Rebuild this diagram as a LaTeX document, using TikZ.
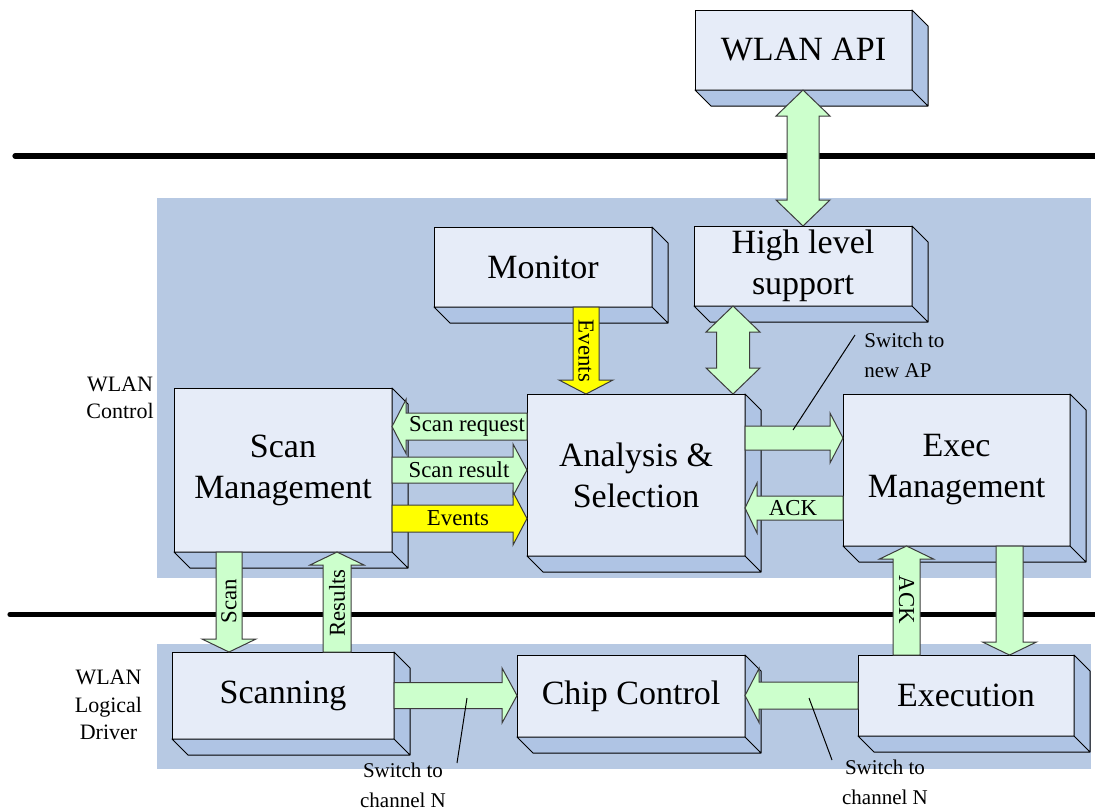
\documentclass[tikz,border=0pt]{standalone}
\usepackage{fontspec}
\setmainfont{Liberation Serif}
\usetikzlibrary{calc}

\definecolor{panelblue}{RGB}{183,201,227}
\definecolor{facelight}{RGB}{230,236,248}
\definecolor{faceside}{RGB}{175,196,228}
\definecolor{arrowgreen}{RGB}{204,255,204}
\definecolor{arrowyellow}{RGB}{255,255,0}
\definecolor{edgegray}{RGB}{60,60,60}

% 3D box: front face as a named node, depth faces drawn to the lower right
\newcommand\cube[6]{%
  \node[cubefront, minimum width={(#4-(#2))*0.5pt}, minimum height={(#5-(#3))*0.5pt}]
    (#1) at ({(#2+#4)/2},{(#3+#5)/2}) {#6};
  \filldraw[cubeside] (#1.north east) -- ++(16,16) -- ($(#1.south east)+(16,16)$)
    -- ($(#1.south west)+(16,16)$) -- (#1.south west) -- (#1.south east) -- cycle
    (#1.south east) -- ++(16,16);
}

% block arrow: style, start, end, direction (ux,uy), shaft half width, head length, head half width
\newcommand\blockarrow[8]{%
  \draw[#1] ($#2+({-(#5)*(#6)},{(#4)*(#6)})$)
    -- ($#3+({-(#4)*(#7)-(#5)*(#6)},{-(#5)*(#7)+(#4)*(#6)})$)
    -- ($#3+({-(#4)*(#7)-(#5)*(#8)},{-(#5)*(#7)+(#4)*(#8)})$)
    -- #3
    -- ($#3+({-(#4)*(#7)+(#5)*(#8)},{-(#5)*(#7)-(#4)*(#8)})$)
    -- ($#3+({-(#4)*(#7)+(#5)*(#6)},{-(#5)*(#7)-(#4)*(#6)})$)
    -- ($#2+({(#5)*(#6)},{-(#4)*(#6)})$)
    -- cycle;}

% double-headed block arrow, same arguments
\newcommand\doublearrow[8]{%
  \draw[#1] #2
    -- ($#2+({(#4)*(#7)-(#5)*(#8)},{(#5)*(#7)+(#4)*(#8)})$)
    -- ($#2+({(#4)*(#7)-(#5)*(#6)},{(#5)*(#7)+(#4)*(#6)})$)
    -- ($#3+({-(#4)*(#7)-(#5)*(#6)},{-(#5)*(#7)+(#4)*(#6)})$)
    -- ($#3+({-(#4)*(#7)-(#5)*(#8)},{-(#5)*(#7)+(#4)*(#8)})$)
    -- #3
    -- ($#3+({-(#4)*(#7)+(#5)*(#8)},{-(#5)*(#7)-(#4)*(#8)})$)
    -- ($#3+({-(#4)*(#7)+(#5)*(#6)},{-(#5)*(#7)-(#4)*(#6)})$)
    -- ($#2+({(#4)*(#7)+(#5)*(#6)},{(#5)*(#7)-(#4)*(#6)})$)
    -- ($#2+({(#4)*(#7)+(#5)*(#8)},{(#5)*(#7)-(#4)*(#8)})$)
    -- cycle;}

\tikzset{
  cubefront/.style={draw=black, line width=0.5pt, fill=facelight, inner sep=0pt,
    outer sep=0pt, align=center, font=\fontsize{17}{20.5}\selectfont},
  cubeside/.style={draw=black, line width=0.5pt, fill=faceside, line join=round},
  greenarrow/.style={draw=edgegray, line width=0.5pt, fill=arrowgreen},
  yellowarrow/.style={draw=edgegray, line width=0.5pt, fill=arrowyellow},
  lbl/.style={inner sep=0pt, font=\fontsize{11.4}{13}\selectfont},
  sidelbl/.style={inner sep=0pt, align=center, font=\fontsize{11}{13.75}\selectfont},
  notelbl/.style={inner sep=0pt, font=\fontsize{10.5}{15}\selectfont},
  leader/.style={draw=black, line width=0.5pt},
  layerline/.style={draw=black, line width=2.6pt, line cap=round},
  panel/.style={fill=panelblue}
}

\begin{document}
\begin{tikzpicture}[x=0.5pt,y=-0.5pt]
\useasboundingbox (0,0) rectangle (1095,810);
\fill[white] (0,0) rectangle (1095,810);

% layer panels
\fill[panel] (157,198) rectangle (1091,578);
\fill[panel] (157,644) rectangle (1091,769);

% layer labels
\node[sidelbl] (lctl) at (120,398) {WLAN\\Control};
\node[sidelbl] (ldrv) at (108.5,705) {WLAN\\Logical\\Driver};

% layer separators
\draw[layerline] (15,156) -- (1095,156);
\draw[layerline] (10,614.5) -- (1095,614.5);

% components
\cube{api}{695}{10}{912}{90}{WLAN API}
\cube{hls}{694}{226}{912}{306}{High level\\support}
\cube{mon}{434}{227}{652}{307}{Monitor}
\cube{ana}{527}{394}{745}{556}{Analysis \&\\Selection}
\cube{scm}{174}{388}{392}{552}{Scan\\Management}
\cube{exm}{843}{394}{1070}{546}{Exec\\Management}
\cube{scn}{172}{652}{394}{739}{Scanning}
\cube{chip}{517}{655}{745}{737}{Chip Control}
\cube{exe}{858}{655}{1074}{736}{Execution}

% guide coordinates for the arrow axes
\coordinate (xapi) at (803,0);
\coordinate (xhls) at (733,0);
\coordinate (xev) at (586,0);
\coordinate (xscan) at (229,0);
\coordinate (xres) at (337,0);
\coordinate (xack) at (906.5,0);
\coordinate (xexe) at (1009.5,0);
\coordinate (yreq) at (0,426.5);
\coordinate (yres) at (0,470);
\coordinate (yev) at (0,518.5);
\coordinate (yap) at (0,438);
\coordinate (yack) at (0,508);
\coordinate (ylow) at (0,695.5);

\coordinate (a1s) at (xapi |- api.south);  \coordinate (a1e) at (xapi |- hls.north);
\coordinate (a2s) at (xhls |- hls.south);  \coordinate (a2e) at (xhls |- ana.north);
\coordinate (a3s) at (xev |- mon.south);   \coordinate (a3e) at (xev |- ana.north);
\coordinate (a4s) at (ana.west |- yreq);   \coordinate (a4e) at (scm.east |- yreq);
\coordinate (a5s) at (scm.east |- yres);   \coordinate (a5e) at (ana.west |- yres);
\coordinate (a6s) at (scm.east |- yev);    \coordinate (a6e) at (ana.west |- yev);
\coordinate (a7s) at (ana.east |- yap);    \coordinate (a7e) at (exm.west |- yap);
\coordinate (a8s) at (exm.west |- yack);   \coordinate (a8e) at (ana.east |- yack);
\coordinate (a9s) at (xack |- exe.north);  \coordinate (a9e) at (xack |- exm.south);
\coordinate (a10s) at (xexe |- exm.south); \coordinate (a10e) at (xexe |- exe.north);
\coordinate (a11s) at (exe.west |- ylow);  \coordinate (a11e) at (chip.east |- ylow);
\coordinate (a12s) at (scn.east |- ylow);  \coordinate (a12e) at (chip.west |- ylow);
\coordinate (a13s) at (xscan |- scm.south); \coordinate (a13e) at (xscan |- scn.north);
\coordinate (a14s) at (xres |- scn.north); \coordinate (a14e) at (xres |- scm.south);

% connectors
\doublearrow{greenarrow}{(a1s)}{(a1e)}{0}{1}{16}{26}{27}
\doublearrow{greenarrow}{(a2s)}{(a2e)}{0}{1}{16.5}{26}{27}
\blockarrow{yellowarrow}{(a3s)}{(a3e)}{0}{1}{13}{14}{27}
\blockarrow{greenarrow}{(a4s)}{(a4e)}{-1}{0}{13.5}{14}{27}
\blockarrow{greenarrow}{(a5s)}{(a5e)}{1}{0}{13}{14}{26}
\blockarrow{yellowarrow}{(a6s)}{(a6e)}{1}{0}{13.5}{14}{26.5}
\blockarrow{greenarrow}{(a7s)}{(a7e)}{1}{0}{12}{13}{25}
\blockarrow{greenarrow}{(a8s)}{(a8e)}{-1}{0}{12}{12}{25}
\blockarrow{greenarrow}{(a9s)}{(a9e)}{0}{-1}{13.5}{13}{27}
\blockarrow{greenarrow}{(a10s)}{(a10e)}{0}{1}{13.5}{13}{27}
\blockarrow{greenarrow}{(a11s)}{(a11e)}{-1}{0}{13.5}{14}{27}
\blockarrow{greenarrow}{(a12s)}{(a12e)}{1}{0}{13}{15}{27.5}
\blockarrow{greenarrow}{(a13s)}{(a13e)}{0}{1}{13}{13}{27}
\blockarrow{greenarrow}{(a14s)}{(a14e)}{0}{-1}{14}{13}{27}

% connector labels
\node[lbl, rotate=-90] (tev1) at (586,351) {Events};
\node[lbl] (treq) at (467,426.5) {Scan request};
\node[lbl] (tres) at (459,470) {Scan result};
\node[lbl] (tev2) at (458,518.5) {Events};
\node[lbl] (tack1) at (793,508) {ACK};
\node[lbl, rotate=-90] (tack2) at (906.5,600) {ACK};
\node[lbl, rotate=90] (tscan) at (229,601) {Scan};
\node[lbl, rotate=90] (tresl) at (337,603) {Results};

% notes with leader lines
\node[notelbl, align=left, anchor=west] (nap) at (864,355) {Switch to\\new AP};
\node[notelbl, align=center] (nch1) at (403,785) {Switch to\\channel N};
\node[notelbl, align=center] (nch2) at (885,782.5) {Switch to\\channel N};
\coordinate (ld1a) at (793,430);   \coordinate (ld1b) at (855,335);
\coordinate (ld2a) at (467,698);   \coordinate (ld2b) at (457,763);
\coordinate (ld3a) at (809,698);   \coordinate (ld3b) at (832,760);
\draw[leader] (ld1a) -- (ld1b);
\draw[leader] (ld2a) -- (ld2b);
\draw[leader] (ld3a) -- (ld3b);
\end{tikzpicture}
\end{document}
